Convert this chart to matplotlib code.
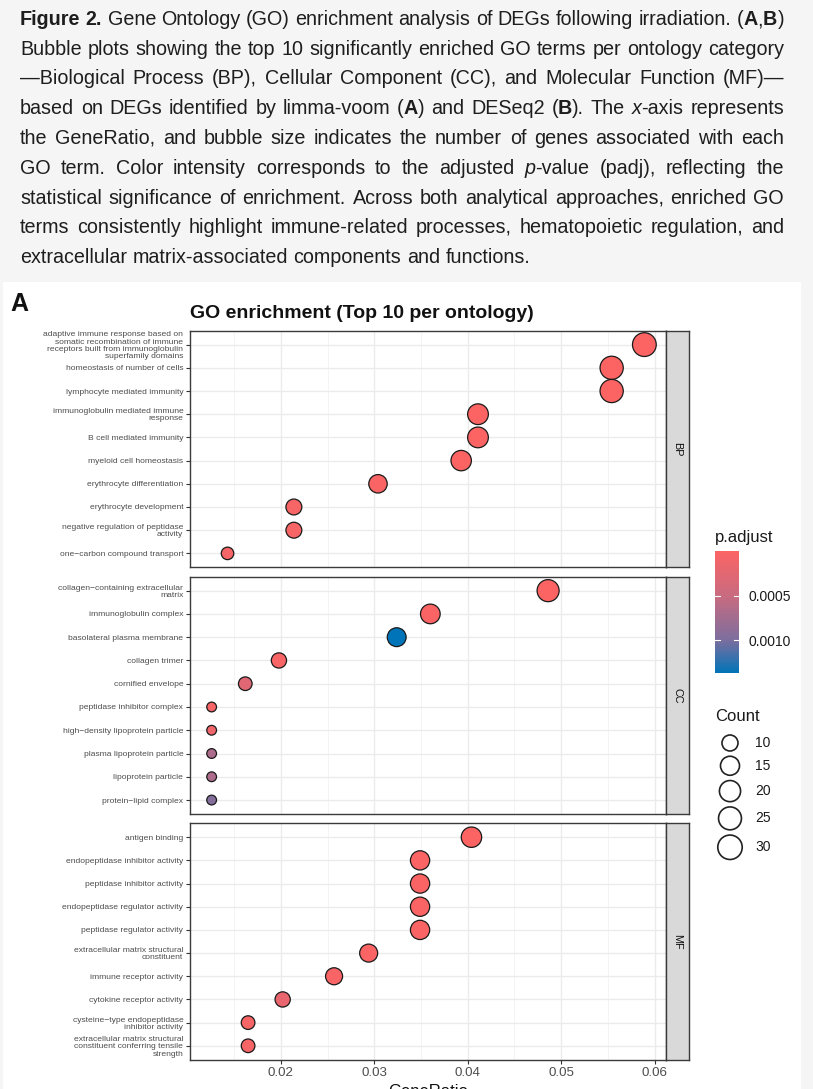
import textwrap
import numpy as np
import matplotlib
matplotlib.use("Agg")
import matplotlib.pyplot as plt
from matplotlib.colors import LinearSegmentedColormap, Normalize
from matplotlib.patches import Rectangle

plt.rcParams["font.family"] = ["Liberation Sans", "DejaVu Sans"]

# ---- data ----
bp_terms = [
    "adaptive immune response based on somatic recombination of immune receptors built from immunoglobulin superfamily domains",
    "homeostasis of number of cells",
    "lymphocyte mediated immunity",
    "immunoglobulin mediated immune response",
    "B cell mediated immunity",
    "myeloid cell homeostasis",
    "erythrocyte differentiation",
    "erythrocyte development",
    "negative regulation of peptidase activity",
    "one-carbon compound transport",
]
bp_ratio = [0.0589, 0.0554, 0.0554, 0.0411, 0.0411, 0.0393, 0.0304, 0.0214, 0.0214, 0.0143]
bp_count = [33, 31, 31, 23, 23, 22, 17, 12, 12, 8]
bp_padj = [2e-8, 3e-7, 3e-7, 1e-6, 1e-6, 5e-6, 2e-5, 4e-5, 4e-5, 6e-5]

cc_terms = [
    "collagen-containing extracellular matrix",
    "immunoglobulin complex",
    "basolateral plasma membrane",
    "collagen trimer",
    "cornified envelope",
    "peptidase inhibitor complex",
    "high-density lipoprotein particle",
    "plasma lipoprotein particle",
    "lipoprotein particle",
    "protein-lipid complex",
]
cc_ratio = [0.0486, 0.0360, 0.0324, 0.0198, 0.0162, 0.0126, 0.0126, 0.0126, 0.0126, 0.0126]
cc_count = [27, 20, 18, 11, 9, 7, 7, 7, 7, 7]
cc_padj = [1e-7, 2e-5, 0.00137, 4e-5, 0.00028, 5e-5, 0.00012, 0.00068, 0.00068, 0.00095]

mf_terms = [
    "antigen binding",
    "endopeptidase inhibitor activity",
    "peptidase inhibitor activity",
    "endopeptidase regulator activity",
    "peptidase regulator activity",
    "extracellular matrix structural constituent",
    "immune receptor activity",
    "cytokine receptor activity",
    "cysteine-type endopeptidase inhibitor activity",
    "extracellular matrix structural constituent conferring tensile strength",
]
mf_ratio = [0.0404, 0.0349, 0.0349, 0.0349, 0.0349, 0.0294, 0.0257, 0.0202, 0.0165, 0.0165]
mf_count = [22, 19, 19, 19, 19, 16, 14, 11, 9, 9]
mf_padj = [3e-6, 1e-5, 1e-5, 1e-5, 1e-5, 2e-5, 3e-5, 0.00018, 5e-5, 5e-5]

padj_ticks = [0.0005, 0.0010]
count_breaks = [10, 15, 20, 25, 30]

caption_lines = [
    [("Figure 2.", "b"), (" Gene Ontology (GO) enrichment analysis of DEGs following irradiation. (", ""),
     ("A", "b"), (",", ""), ("B", "b"), (")", "")],
    [("Bubble plots showing the top 10 significantly enriched GO terms per ontology category", "")],
    [("\u2014Biological Process (BP), Cellular Component (CC), and Molecular Function (MF)\u2014", "")],
    [("based on DEGs identified by limma-voom (", ""), ("A", "b"), (") and DESeq2 (", ""), ("B", "b"),
     ("). The ", ""), ("x", "i"), ("-axis represents", "")],
    [("the GeneRatio, and bubble size indicates the number of genes associated with each", "")],
    [("GO term. Color intensity corresponds to the adjusted ", ""), ("p", "i"),
     ("-value (padj), reflecting the", "")],
    [("statistical significance of enrichment. Across both analytical approaches, enriched GO", "")],
    [("terms consistently highlight immune-related processes, hematopoietic regulation, and", "")],
    [("extracellular matrix-associated components and functions.", "")],
]

# ---- figure / layout (pixel units) ----
W, H = 813, 1089
fig = plt.figure(figsize=(W / 100, H / 100), dpi=100)
fig.patch.set_facecolor("#F5F5F5")
fig.add_artist(Rectangle((3 / W, 0), (801 - 3) / W, 1 - 282 / H, transform=fig.transFigure,
                         facecolor="white", edgecolor="none", zorder=-5))

ov = fig.add_axes([0, 0, 1, 1], zorder=10)
ov.set_xlim(0, W)
ov.set_ylim(H, 0)
ov.axis("off")
ov.patch.set_visible(False)

# ---- caption, justified ----
renderer = fig.canvas.get_renderer()
styles = {"": {}, "b": {"weight": "bold"}, "i": {"style": "italic"}}
cap_kw = dict(fontsize=14.2, color="#1E1E1E")


def split_words(line):
    words = [[]]
    for txt, st in line:
        for k, part in enumerate(txt.split(" ")):
            if k > 0:
                words.append([])
            if part:
                words[-1].append((part, st))
    return [w for w in words if w]


def text_w(s, st):
    t = ov.text(0, 0, s, **cap_kw, **styles[st])
    w = t.get_window_extent(renderer).width
    t.remove()
    return w


space_w = text_w("a a", "") - text_w("aa", "")
x_left, x_right = 20, 784
for i, line in enumerate(caption_lines):
    words = split_words(line)
    widths = [[text_w(s, st) for s, st in w] for w in words]
    total = sum(sum(w) for w in widths)
    last = i == len(caption_lines) - 1
    gap = space_w if last else (x_right - x_left - total) / (len(words) - 1)
    y = 25 + 29.75 * i
    x = x_left
    for w, ws in zip(words, widths):
        for (s, st), pw in zip(w, ws):
            ov.text(x, y, s, va="baseline", ha="left", **cap_kw, **styles[st])
            x += pw
        x += gap

# ---- bubble chart ----
cmap = LinearSegmentedColormap.from_list(
    "padj", [(0, "#FC6464"), (0.365, "#C96B80"), (0.73, "#7C6E9E"), (1, "#0074B8")])
all_padj = bp_padj + cc_padj + mf_padj
norm = Normalize(vmin=0, vmax=max(all_padj))

all_count = bp_count + cc_count + mf_count
cmin, cmax = min(all_count), max(all_count)


def bubble_d(c):
    return 11 + 14 * np.sqrt((np.asarray(c, float) - cmin) / (cmax - cmin))


def bubble_s(c, extra=0.0):
    return ((bubble_d(c) + extra - 1.25) * 0.72) ** 2


all_ratio = bp_ratio + cc_ratio + mf_ratio
span = max(all_ratio) - min(all_ratio)
xlim = (min(all_ratio) - 0.05 * span, max(all_ratio) + 0.05 * span)

panels = [
    ("BP", bp_terms, bp_ratio, bp_count, bp_padj, 330.7, 567.3),
    ("CC", cc_terms, cc_ratio, cc_count, cc_padj, 576.7, 814.0),
    ("MF", mf_terms, mf_ratio, mf_count, mf_padj, 823.3, 1059.7),
]
px_l, px_r, strip_r = 190, 666, 689
border = "#3A3A3A"

for k, (name, terms, ratio, count, padj, top, bot) in enumerate(panels):
    ax = fig.add_axes([px_l / W, 1 - bot / H, (px_r - px_l) / W, (bot - top) / H])
    n = len(terms)
    ypos = np.arange(n)
    ax.scatter(ratio, ypos, s=bubble_s(count), c=padj, cmap=cmap, norm=norm,
               edgecolors="#1A1A1A", linewidths=0.9, zorder=3)
    ax.set_xlim(*xlim)
    ax.set_ylim(n - 1 + 0.6, -0.6)
    ax.set_yticks(ypos)
    labels = ["\n".join(textwrap.wrap(t, 35)).replace("-", "\u2212") for t in terms]
    ax.set_yticklabels(labels, fontsize=6.1, color="#4D4D4D", linespacing=1.05)
    ax.set_xticks([0.02, 0.03, 0.04, 0.05, 0.06])
    ax.set_xticks([0.015, 0.025, 0.035, 0.045, 0.055], minor=True)
    ax.grid(which="major", color="#EBEBEB", linewidth=1.0, zorder=0)
    ax.grid(which="minor", axis="x", color="#F2F2F2", linewidth=0.6, zorder=0)
    ax.set_axisbelow(True)
    ax.tick_params(axis="y", length=3, width=0.8, color="#333333", pad=1.8)
    ax.tick_params(axis="x", which="minor", length=0)
    if k == len(panels) - 1:
        ax.set_xticklabels(["0.02", "0.03", "0.04", "0.05", "0.06"])
        ax.tick_params(axis="x", which="major", length=3, width=0.8, color="#333333",
                       labelsize=9.6, labelcolor="#4D4D4D", pad=2)
    else:
        ax.tick_params(axis="x", which="major", length=0, labelbottom=False)
    for sp in ax.spines.values():
        sp.set_color(border)
        sp.set_linewidth(1.0)

    sax = fig.add_axes([px_r / W, 1 - bot / H, (strip_r - px_r) / W, (bot - top) / H])
    sax.set_facecolor("#D9D9D9")
    sax.set_xticks([])
    sax.set_yticks([])
    for sp in sax.spines.values():
        sp.set_color(border)
        sp.set_linewidth(1.0)
    sax.text(0.5, 0.5, name, rotation=-90, ha="center", va="center", fontsize=7.8,
             color="#0D0D0D", transform=sax.transAxes)

# titles
ov.text(10, 311, "A", fontsize=18, weight="bold", color="#111111", va="baseline")
ov.text(px_l, 318, "GO enrichment (Top 10 per ontology)", fontsize=14, weight="bold",
        color="#111111", va="baseline")
ov.text((px_l + px_r) / 2, 1084, "GeneRatio", fontsize=12, color="#111111", ha="center", va="top")

# ---- p.adjust colourbar ----
ov.text(715, 542, "p.adjust", fontsize=12, color="#1A1A1A", va="baseline")
cax = fig.add_axes([715 / W, 1 - 673 / H, 24 / W, 122 / H])
sm = plt.cm.ScalarMappable(norm=norm, cmap=cmap)
cb = fig.colorbar(sm, cax=cax)
cb.outline.set_visible(False)
cax.invert_yaxis()
cb.set_ticks(padj_ticks)
cb.set_ticklabels([f"{v:.4f}" for v in padj_ticks])
cax.tick_params(length=0, pad=6.5, labelsize=10, labelcolor="#1A1A1A")
for v in padj_ticks:
    cax.plot([0, 0.2], [v, v], color="white", lw=0.8)
    cax.plot([0.8, 1], [v, v], color="white", lw=0.8)

# ---- Count legend ----
ov.text(715, 721, "Count", fontsize=12, color="#1A1A1A", va="baseline")
diam = bubble_d(count_breaks) + 1.5
yc = 743.0
for i, c in enumerate(count_breaks):
    if i > 0:
        yc += (diam[i - 1] + diam[i]) / 2 + 4.0
    ov.scatter([730], [yc], s=bubble_s(c, extra=1.5), facecolors="none", edgecolors="#222222",
               linewidths=1.2)
    ov.text(755, yc, str(c), fontsize=10, color="#1A1A1A", va="center", ha="left")

fig.savefig("out.png", dpi=100, facecolor=fig.get_facecolor())
